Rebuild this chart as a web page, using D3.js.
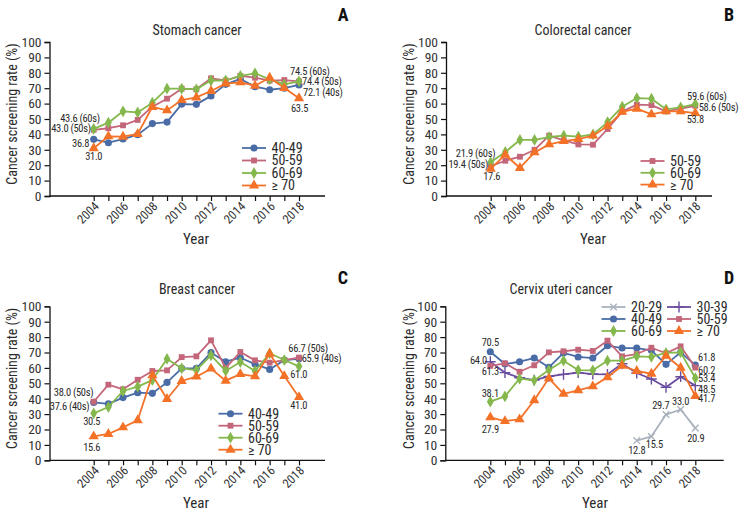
<!DOCTYPE html>
<html>
<head>
<meta charset="utf-8">
<script src="https://cdn.jsdelivr.net/npm/d3@7"></script>
<style>
  body { margin: 0; background: #fff; }
  svg text { font-family: "Liberation Sans Narrow", "Roboto Condensed", "DejaVu Sans Condensed", "Noto Sans", sans-serif; font-stretch: condensed; fill: #2b2b2b; }
</style>
</head>
<body>
<svg id="chart" width="744" height="515"></svg>
<script>
// years on the x axis
const years = [2004, 2005, 2006, 2007, 2008, 2009, 2010, 2011, 2012, 2013, 2014, 2015, 2016, 2017, 2018];
const year_ticks = [2004, 2006, 2008, 2010, 2012, 2014, 2016, 2018];
const y_ticks = [0, 10, 20, 30, 40, 50, 60, 70, 80, 90, 100];

// A: stomach
const stomach_40 = [36.8, 34.6, 37.0, 39.8, 47.0, 48.0, 59.7, 59.5, 65.0, 72.5, 76.0, 71.0, 69.0, 70.0, 72.1];
const stomach_50 = [43.0, 44.0, 45.9, 49.4, 58.0, 63.2, 69.7, 69.3, 76.4, 75.0, 78.0, 76.8, 74.9, 75.3, 74.4];
const stomach_60 = [43.6, 47.6, 55.0, 54.3, 60.6, 69.7, 69.7, 69.3, 75.0, 75.0, 78.0, 79.7, 75.7, 72.5, 74.5];
const stomach_70 = [31.0, 38.7, 38.5, 40.3, 57.8, 55.6, 62.3, 64.0, 68.2, 73.0, 73.8, 71.6, 76.8, 70.1, 63.5];

// B: colorectal
const colorectal_50 = [19.4, 22.9, 25.5, 30.0, 39.2, 36.1, 33.5, 33.3, 43.5, 54.8, 59.3, 59.0, 55.0, 56.7, 58.6];
const colorectal_60 = [21.9, 28.6, 36.4, 36.4, 38.3, 39.2, 38.6, 40.0, 48.0, 58.0, 63.6, 63.2, 56.3, 57.5, 59.6];
const colorectal_70 = [17.6, 26.8, 18.2, 28.3, 33.5, 35.7, 37.0, 39.2, 45.4, 54.7, 56.7, 53.0, 55.0, 55.0, 53.8];

// C: breast
const breast_40 = [37.6, 36.6, 40.7, 43.9, 43.5, 50.6, 59.7, 59.7, 69.9, 64.0, 66.6, 62.5, 59.0, 65.1, 65.9];
const breast_50 = [38.0, 49.1, 46.1, 52.3, 58.0, 58.4, 67.0, 67.5, 77.9, 60.0, 70.3, 64.9, 63.4, 65.1, 66.7];
const breast_60 = [30.5, 34.6, 45.0, 47.8, 52.1, 65.8, 59.7, 58.6, 68.2, 58.0, 63.8, 58.0, 69.5, 65.1, 61.0];
const breast_70 = [15.6, 17.1, 21.4, 26.0, 55.2, 39.8, 51.5, 54.3, 59.5, 51.7, 56.0, 54.5, 69.2, 54.7, 41.0];

// D: cervix uteri
const cervix_20 = [null, null, null, null, null, null, null, null, null, null, 12.8, 15.5, 29.7, 33.0, 20.9];
const cervix_30 = [64.0, 56.9, 53.6, 52.1, 54.5, 55.8, 56.9, 56.0, 55.8, 62.7, 56.7, 52.8, 47.4, 54.3, 48.5];
const cervix_40 = [70.5, 62.5, 64.0, 66.4, 60.4, 69.7, 67.1, 66.4, 74.4, 72.9, 72.9, 71.4, 62.3, 70.1, 61.8];
const cervix_50 = [61.3, 63.0, 57.5, 61.7, 70.1, 70.8, 71.8, 71.0, 77.7, 67.5, 69.0, 73.1, 69.5, 74.0, 60.2];
const cervix_60 = [38.1, 41.5, 53.0, 51.9, 58.6, 64.7, 58.6, 58.4, 64.7, 64.7, 67.5, 67.1, 69.7, 70.1, 53.4];
const cervix_70 = [27.9, 25.5, 26.6, 39.0, 53.2, 43.2, 45.4, 48.0, 53.9, 61.4, 58.0, 56.2, 67.9, 60.1, 41.7];

const groups = {
  "20-29": { color: "#a9b2bd", symbol: d3.symbolTimes, size: 30, stroke: true },
  "30-39": { color: "#6a4d9e", symbol: d3.symbolPlus, size: 40, stroke: true },
  "40-49": { color: "#4a6ca6", symbol: d3.symbolCircle, size: 40 },
  "50-59": { color: "#c4667a", symbol: d3.symbolSquare, size: 34 },
  "60-69": { color: "#84b84c", symbol: d3.symbolDiamond, size: 40 },
  "\u2265 70": { color: "#f47228", symbol: d3.symbolTriangle, size: 45 },
};

const panels = [
  {
    letter: "A", title: "Stomach cancer",
    left: 49.5, right: 325, x04: 93.7, x18: 299, y0: 196, y100: 42,
    letter_x: 343, letter_y: 21, title_x: 197, title_y: 35, ylab_x: 17, year_x: 196, year_y: 244,
    series: [["40-49", stomach_40], ["50-59", stomach_50], ["60-69", stomach_60], ["\u2265 70", stomach_70]],
    legend: { x: 242, y: 148, dy: 12.5, cols: 1 },
    labels: [
      ["60-69", 2004, " (60s)", "end", 6, -7], ["50-59", 2004, " (50s)", "end", -3, 2],
      ["40-49", 2004, "", "end", -4.5, 8], ["\u2265 70", 2004, "", "middle", 0, 12],
      ["60-69", 2018, " (60s)", "start", -9, -6], ["50-59", 2018, " (50s)", "start", 3, 3.6],
      ["40-49", 2018, " (40s)", "start", 4, 11], ["\u2265 70", 2018, "", "middle", 0.5, 14],
    ],
  },
  {
    letter: "B", title: "Colorectal cancer",
    left: 446, right: 712, x04: 490.7, x18: 695.3, y0: 196, y100: 42,
    letter_x: 729, letter_y: 21, title_x: 583, title_y: 35, ylab_x: 414, year_x: 593, year_y: 244,
    series: [["50-59", colorectal_50], ["60-69", colorectal_60], ["\u2265 70", colorectal_70]],
    legend: { x: 640.5, y: 161, dy: 11.8, cols: 1 },
    labels: [
      ["60-69", 2004, " (60s)", "end", 4.6, -5], ["50-59", 2004, " (50s)", "end", -2.7, 2],
      ["\u2265 70", 2004, "", "middle", 1, 11.6],
      ["60-69", 2018, " (60s)", "start", -8.3, -4.7], ["50-59", 2018, " (50s)", "start", 3.4, 5],
      ["\u2265 70", 2018, "", "middle", 0, 10],
    ],
  },
  {
    letter: "C", title: "Breast cancer",
    left: 49.5, right: 325, x04: 93.7, x18: 299, y0: 460.3, y100: 306.3,
    letter_x: 343, letter_y: 284, title_x: 197, title_y: 294, ylab_x: 17, year_x: 196, year_y: 508,
    series: [["40-49", breast_40], ["50-59", breast_50], ["60-69", breast_60], ["\u2265 70", breast_70]],
    legend: { x: 218.5, y: 413.7, dy: 12, cols: 1 },
    labels: [
      ["50-59", 2004, " (50s)", "end", -0.4, -5.3], ["40-49", 2004, " (40s)", "end", -4.4, 7.6],
      ["60-69", 2004, "", "middle", -2, 11.7], ["\u2265 70", 2004, "", "middle", -2, 14.7],
      ["50-59", 2018, " (50s)", "start", -10.7, -6], ["40-49", 2018, " (40s)", "start", 2.7, 3.2],
      ["60-69", 2018, "", "middle", -0.3, 11.6], ["\u2265 70", 2018, "", "middle", -0.3, 12],
    ],
  },
  {
    letter: "D", title: "Cervix uteri cancer",
    left: 445.3, right: 723.7, x04: 490.3, x18: 695.3, y0: 460.3, y100: 306.3,
    letter_x: 729, letter_y: 284, title_x: 561, title_y: 294, ylab_x: 414, year_x: 595, year_y: 508,
    series: [["20-29", cervix_20], ["30-39", cervix_30], ["40-49", cervix_40], ["50-59", cervix_50], ["60-69", cervix_60], ["\u2265 70", cervix_70]],
    legend: { x: 601.5, y: 307, dy: 12, cols: 2, col_dx: 65.5 },
    labels: [
      ["40-49", 2004, "", "middle", 0, -5.7], ["30-39", 2004, "", "end", -3.3, 2.3],
      ["50-59", 2004, "", "middle", 0, 9], ["60-69", 2004, "", "middle", 0, -5],
      ["\u2265 70", 2004, "", "middle", 0, 15.7],
      ["40-49", 2018, "", "start", 2.7, -4], ["50-59", 2018, "", "start", 2.7, 6],
      ["60-69", 2018, "", "start", 2.7, 4.4], ["30-39", 2018, "", "start", 2.7, 7.4],
      ["\u2265 70", 2018, "", "start", 2.7, 6.4],
      ["20-29", 2014, "", "middle", 0, 13], ["20-29", 2015, "", "middle", 3, 12],
      ["20-29", 2016, "", "middle", -5.3, -6], ["20-29", 2017, "", "middle", 0, -4.5],
      ["20-29", 2018, "", "middle", 0.5, 14],
    ],
  },
];

const svg = d3.select("#chart");

function draw_marker(g, name, x, y) {
  const s = groups[name];
  const path = g.append("path")
    .attr("d", d3.symbol().type(s.symbol).size(s.size)())
    .attr("transform", `translate(${x},${y})`);
  if (s.stroke) {
    path.attr("fill", "none").attr("stroke", s.color).attr("stroke-width", 1.4);
  } else {
    path.attr("fill", s.color);
  }
}

function draw_panel(p) {
  const g = svg.append("g");
  const x = d3.scaleLinear().domain([2004, 2018]).range([p.x04, p.x18]);
  const y = d3.scaleLinear().domain([0, 100]).range([p.y0, p.y100]);

  // panel letter and title
  g.append("text").attr("x", p.letter_x).attr("y", p.letter_y)
    .attr("text-anchor", "middle").attr("font-size", 18).attr("font-weight", "bold")
    .style("fill", "#111").text(p.letter);
  g.append("text").attr("x", p.title_x).attr("y", p.title_y)
    .attr("text-anchor", "middle").attr("font-size", 14).text(p.title);

  // y axis
  const ya = g.append("g").attr("transform", `translate(${p.left},0)`)
    .call(d3.axisLeft(y).tickValues(y_ticks).tickSize(5).tickPadding(3));
  ya.select(".domain").attr("stroke", "#111").attr("stroke-width", 1.3);
  ya.selectAll(".tick line").attr("stroke", "#111").attr("stroke-width", 1.2);
  ya.selectAll(".tick text").attr("font-size", 13.5).attr("font-family", null).style("fill", "#333");

  // x axis
  g.append("line").attr("x1", p.left).attr("x2", p.right)
    .attr("y1", p.y0).attr("y2", p.y0).attr("stroke", "#111").attr("stroke-width", 1.3);
  const xa = g.append("g").attr("transform", `translate(0,${p.y0})`)
    .call(d3.axisBottom(x).tickValues(years).tickSize(5).tickFormat(""));
  xa.select(".domain").remove();
  xa.selectAll(".tick line").attr("stroke", "#111").attr("stroke-width", 1.2);
  g.selectAll(".year-label").data(year_ticks).join("text")
    .attr("transform", (d) => `translate(${x(d) + 3},${p.y0 + 8}) rotate(-45)`)
    .attr("text-anchor", "end").attr("dy", "0.35em").attr("font-size", 12.5)
    .style("fill", "#333").text((d) => d);

  g.append("text").attr("transform", `translate(${p.ylab_x},${(p.y0 + p.y100) / 2 - 5}) rotate(-90)`)
    .attr("text-anchor", "middle").attr("font-size", 14).text("Cancer screening rate (%)");
  g.append("text").attr("x", p.year_x).attr("y", p.year_y)
    .attr("text-anchor", "middle").attr("font-size", 15).text("Year");

  // lines and markers
  const line = d3.line().defined((d) => d[1] !== null).x((d) => x(d[0])).y((d) => y(d[1]));
  p.series.forEach(([name, values]) => {
    const pts = years.map((yr, i) => [yr, values[i]]);
    g.append("path").datum(pts).attr("d", line).attr("fill", "none")
      .attr("stroke", groups[name].color).attr("stroke-width", 1.8).attr("stroke-linejoin", "round");
    pts.filter((d) => d[1] !== null).forEach((d) => draw_marker(g, name, x(d[0]), y(d[1])));
  });

  // value labels
  const lookup = Object.fromEntries(p.series);
  p.labels.forEach(([name, yr, suffix, anchor, dx, dy]) => {
    const v = lookup[name][years.indexOf(yr)];
    g.append("text").attr("x", x(yr) + dx).attr("y", y(v) + dy)
      .attr("text-anchor", anchor).attr("font-size", 10.5).attr("letter-spacing", -0.3)
      .text(v.toFixed(1) + suffix);
  });

  // legend
  const lg = p.legend;
  p.series.forEach(([name], i) => {
    const col = lg.cols === 2 ? i % 2 : 0;
    const row = lg.cols === 2 ? Math.floor(i / 2) : i;
    const lx = lg.x + col * (lg.col_dx || 0);
    const ly = lg.y + row * lg.dy;
    g.append("line").attr("x1", lx).attr("x2", lx + 24).attr("y1", ly).attr("y2", ly)
      .attr("stroke", groups[name].color).attr("stroke-width", 1.8);
    draw_marker(g, name, lx + 12, ly);
    g.append("text").attr("x", lx + 29.5).attr("y", ly).attr("dy", "0.35em")
      .attr("font-size", 14).text(name);
  });
}

panels.forEach(draw_panel);
</script>
</body>
</html>
